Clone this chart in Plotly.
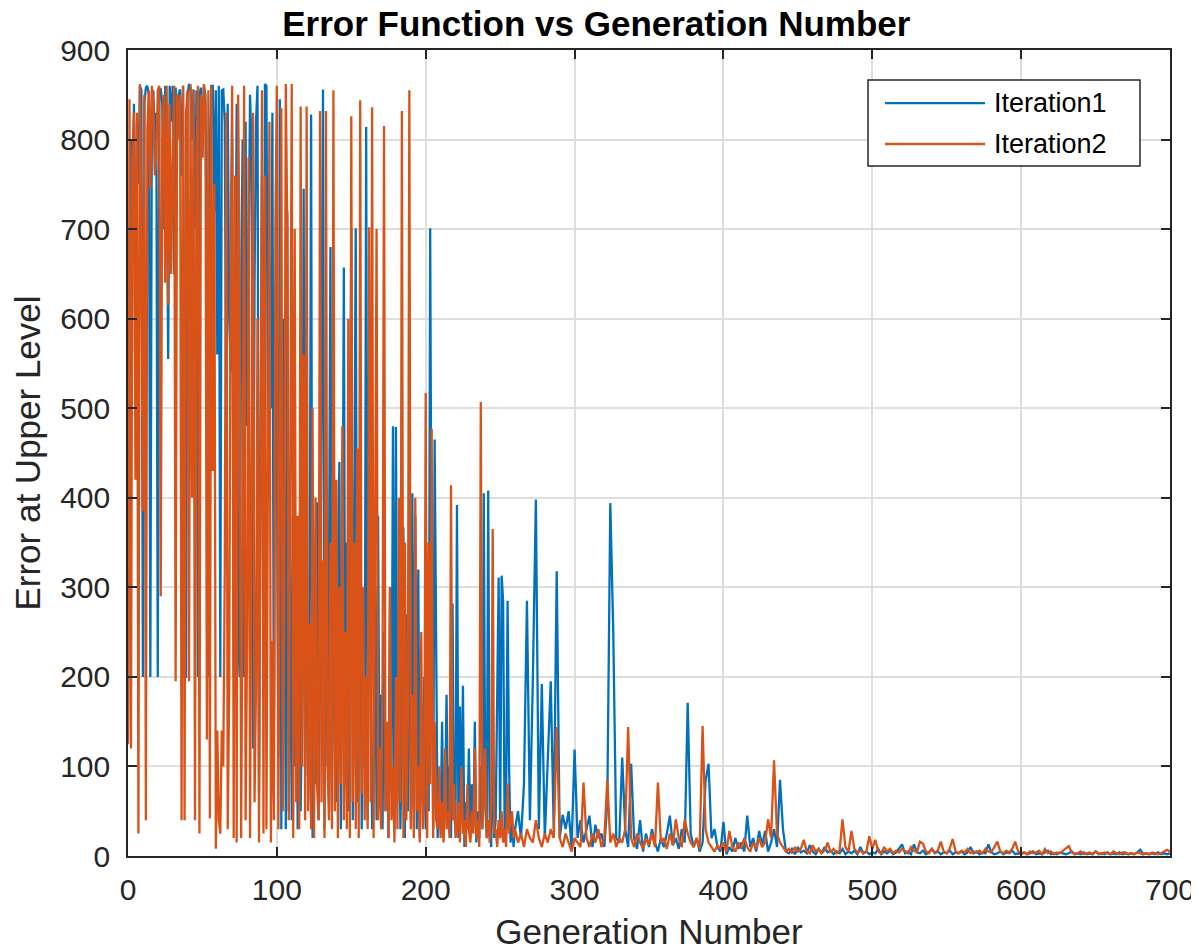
import plotly.graph_objects as go

# Generations: every generation for 0-259, every second generation for 260-700
gen_dense = list(range(0, 260))
gen_sparse = list(range(260, 701, 2))

iter1_dense = [
    130, 560, 800, 700, 840, 480, 820, 750, 860, 855,
    200, 840, 858, 860, 850, 200, 820, 855, 800, 830,
    200, 855, 856, 840, 700, 860, 770, 555, 860, 820,
    860, 650, 858, 800, 850, 856, 760, 860, 200, 200,
    850, 862, 858, 800, 856, 700, 855, 200, 850, 858,
    780, 860, 850, 640, 200, 795, 860, 860, 720, 855,
    560, 860, 200, 855, 856, 820, 480, 840, 600, 540,
    800, 200, 560, 840, 250, 200, 620, 800, 200, 820,
    480, 640, 850, 790, 120, 640, 820, 860, 70, 420,
    760, 200, 862, 860, 470, 660, 500, 830, 80, 640,
    480, 110, 845, 30, 600, 400, 30, 720, 50, 380,
    40, 360, 100, 280, 30, 300, 50, 200, 745, 90,
    400, 60, 240, 828, 20, 300, 80, 395, 40, 200,
    590, 856, 30, 440, 100, 300, 680, 50, 400, 120,
    60, 320, 440, 30, 250, 657, 80, 350, 50, 300,
    701, 40, 380, 701, 60, 120, 400, 30, 250, 100,
    814, 40, 570, 200, 30, 90, 300, 40, 380, 60,
    180, 30, 250, 50, 140, 20, 300, 70, 480, 30,
    479, 60, 200, 30, 150, 367, 20, 270, 50, 405,
    40, 405, 100, 380, 30, 320, 20, 140, 60, 200,
    30, 120, 50, 701, 250, 30, 465, 180, 20, 80,
    30, 150, 20, 60, 180, 40, 100, 20, 282, 50,
    30, 392, 20, 167, 40, 190, 10, 60, 30, 120,
    20, 80, 30, 150, 15, 50, 20, 100, 30, 405,
    60, 20, 408, 30, 10, 120, 20, 40, 200, 311,
    20, 313, 285, 30, 60, 285, 100, 15, 40, 10,
]

iter1_sparse = [
    30, 50, 20, 80, 285, 40, 200, 398, 30, 192,
    20, 120, 195, 30, 318, 20, 46, 30, 50, 10,
    119, 20, 40, 15, 30, 45, 10, 35, 20, 25,
    10, 60, 394, 250, 20, 15, 110, 30, 10, 103,
    20, 8, 40, 5, 25, 10, 30, 15, 5, 20,
    10, 25, 45, 12, 20, 8, 30, 15, 171, 25,
    10, 20, 5, 15, 84, 103, 20, 30, 10, 5,
    38, 2, 10, 5, 20, 8, 15, 5, 45, 10,
    20, 5, 28, 12, 28, 5, 15, 30, 10, 85,
    30, 5, 3, 8, 2, 10, 4, 6, 3, 12,
    5, 2, 8, 3, 10, 4, 6, 2, 5, 3,
    8, 2, 5, 3, 6, 2, 10, 3, 5, 2,
    4, 3, 8, 2, 5, 3, 6, 2, 4, 8,
    13, 3, 5, 2, 13, 4, 3, 6, 2, 4,
    8, 3, 5, 2, 4, 3, 6, 2, 4, 3,
    5, 2, 4, 10, 3, 5, 2, 4, 3, 13,
    4, 2, 3, 5, 2, 4, 3, 6, 2, 3,
    2, 4, 2, 3, 5, 2, 3, 2, 4, 6,
    2, 3, 2, 4, 3, 2, 3, 5, 2, 3,
    2, 4, 2, 3, 2, 5, 2, 3, 2, 4,
    2, 3, 2, 4, 2, 3, 2, 3, 2, 4,
    7, 2, 3, 2, 3, 2, 4, 2, 3, 2,
    3,
]

iter2_dense = [
    125, 845, 120, 780, 830, 420, 830, 25, 862, 700,
    385, 850, 40, 810, 855, 745, 860, 840, 760, 780,
    855, 860, 290, 800, 850, 640, 860, 615, 840, 650,
    780, 860, 195, 850, 800, 850, 40, 860, 40, 830,
    855, 195, 862, 400, 855, 40, 780, 860, 25, 850,
    780, 862, 840, 130, 855, 42, 860, 430, 750, 8,
    140, 40, 25, 140, 100, 320, 830, 30, 190, 700,
    860, 20, 760, 15, 850, 650, 20, 320, 860, 40,
    240, 780, 20, 530, 830, 60, 190, 600, 15, 420,
    855, 25, 760, 30, 545, 820, 15, 240, 40, 700,
    860, 30, 420, 835, 50, 300, 862, 700, 40, 500,
    862, 20, 700, 60, 380, 30, 837, 100, 560, 40,
    837, 50, 260, 30, 500, 20, 400, 80, 40, 832,
    60, 330, 20, 832, 100, 40, 350, 30, 855, 50,
    420, 20, 300, 80, 480, 40, 250, 30, 600, 20,
    826, 60, 350, 30, 455, 20, 844, 70, 300, 40,
    200, 30, 702, 60, 836, 20, 300, 700, 40, 120,
    30, 200, 815, 50, 150, 20, 300, 40, 100, 15,
    200, 30, 400, 60, 832, 20, 350, 40, 150, 855,
    30, 180, 20, 400, 50, 100, 15, 250, 30, 60,
    517, 20, 350, 80, 477, 20, 150, 40, 30, 100,
    20, 60, 15, 120, 30, 50, 20, 414, 40, 80,
    20, 30, 60, 15, 100, 25, 40, 10, 80, 30,
    15, 50, 25, 120, 20, 40, 10, 507, 30, 60,
    120, 20, 40, 15, 60, 365, 25, 30, 10, 40,
    20, 50, 15, 30, 10, 81, 25, 40, 50, 20,
]

iter2_sparse = [
    30, 15, 25, 10, 30, 20, 15, 40, 20, 10,
    25, 15, 30, 20, 144, 20, 10, 25, 15, 5,
    20, 15, 10, 82, 20, 10, 25, 15, 30, 10,
    20, 85, 15, 25, 10, 20, 15, 30, 144, 20,
    10, 25, 15, 8, 20, 12, 25, 10, 82, 15,
    20, 8, 25, 12, 41, 20, 10, 41, 25, 15,
    10, 20, 8, 145, 30, 15, 10, 5, 12, 8,
    15, 5, 28, 10, 5, 15, 8, 20, 10, 5,
    15, 8, 20, 10, 15, 41, 20, 107, 25, 15,
    10, 5, 8, 3, 10, 5, 8, 18, 5, 3,
    12, 5, 8, 3, 6, 15, 4, 8, 3, 6,
    41, 10, 5, 28, 8, 4, 6, 3, 5, 22,
    8, 18, 5, 3, 10, 5, 8, 3, 6, 4,
    8, 5, 3, 10, 6, 4, 16, 14, 5, 3,
    8, 4, 6, 16, 5, 3, 8, 19, 5, 3,
    6, 4, 8, 3, 5, 4, 6, 3, 8, 5,
    4, 10, 16, 5, 3, 6, 4, 8, 16, 5,
    3, 4, 2, 5, 3, 4, 6, 2, 8, 3,
    5, 2, 4, 3, 6, 9, 11, 4, 2, 3,
    5, 2, 3, 4, 2, 5, 3, 2, 4, 3,
    2, 5, 3, 2, 4, 4, 2, 3, 2, 4,
    3, 2, 3, 2, 4, 3, 2, 3, 5, 7,
    5,
]

series_names = ["Iteration1", "Iteration2"]
series_colors = ["#0072BD", "#D95319"]
x_ticks = [0, 100, 200, 300, 400, 500, 600, 700]
y_ticks = [0, 100, 200, 300, 400, 500, 600, 700, 800, 900]

gens = gen_dense + gen_sparse
iter1 = iter1_dense + iter1_sparse
iter2 = iter2_dense + iter2_sparse

FONT = "Liberation Sans, Arial, Helvetica, sans-serif"
INK = "#262626"

fig = go.Figure()
for name, ys, col in zip(series_names, [iter1, iter2], series_colors):
    fig.add_trace(go.Scatter(x=gens, y=ys, mode="lines", name=name,
                             line=dict(color=col, width=2.3), showlegend=False))

axis_common = dict(showgrid=True, gridcolor="#dedede", gridwidth=1.5,
                   showline=True, linecolor=INK, linewidth=1.5, mirror="ticks",
                   ticks="inside", ticklen=9, tickcolor=INK, tickwidth=1.5,
                   zeroline=False, automargin=False,
                   tickfont=dict(size=30, color=INK, family=FONT))

# Legend drawn in MATLAB style (box, long line samples)
lx0, lx1, ly0, ly1 = 0.7102, 0.9712, 0.8561, 0.9628
row_y = [0.9342, 0.8834]
shapes = [dict(type="rect", xref="paper", yref="paper", x0=lx0, x1=lx1, y0=ly0, y1=ly1,
               line=dict(color=INK, width=1.5), fillcolor="white", layer="above")]
annotations = []
for name, col, yy in zip(series_names, series_colors, row_y):
    shapes.append(dict(type="line", xref="paper", yref="paper", x0=0.7265, x1=0.8225,
                       y0=yy, y1=yy, line=dict(color=col, width=2.3), layer="above"))
    annotations.append(dict(xref="paper", yref="paper", x=0.8290, y=yy, xanchor="left",
                            yanchor="middle", text=name, showarrow=False,
                            font=dict(size=27, color="black", family=FONT)))

W, H = 1191, 943  # page body adds an 8px offset
fig.update_layout(
    width=W, height=H,
    paper_bgcolor="white", plot_bgcolor="white",
    margin=dict(l=120, r=29, t=42, b=95),
    font=dict(family=FONT, color=INK),
    title=dict(text="<b>Error Function vs Generation Number</b>", x=0.494, xanchor="center",
               y=1 - 16 / H, yanchor="middle", yref="container",
               font=dict(size=35, color="black", family=FONT)),
    xaxis=dict(range=[0, 700], tickvals=x_ticks, ticklabelstandoff=6,
               title=dict(text="Generation Number", font=dict(size=35, color=INK), standoff=16),
               **axis_common),
    yaxis=dict(range=[0, 900], tickvals=y_ticks, ticklabelstandoff=10,
               title=dict(text="Error at Upper Level", font=dict(size=35, color=INK), standoff=16),
               **axis_common),
    shapes=shapes,
    annotations=annotations,
    showlegend=False,
)

fig.write_html("out.html")
